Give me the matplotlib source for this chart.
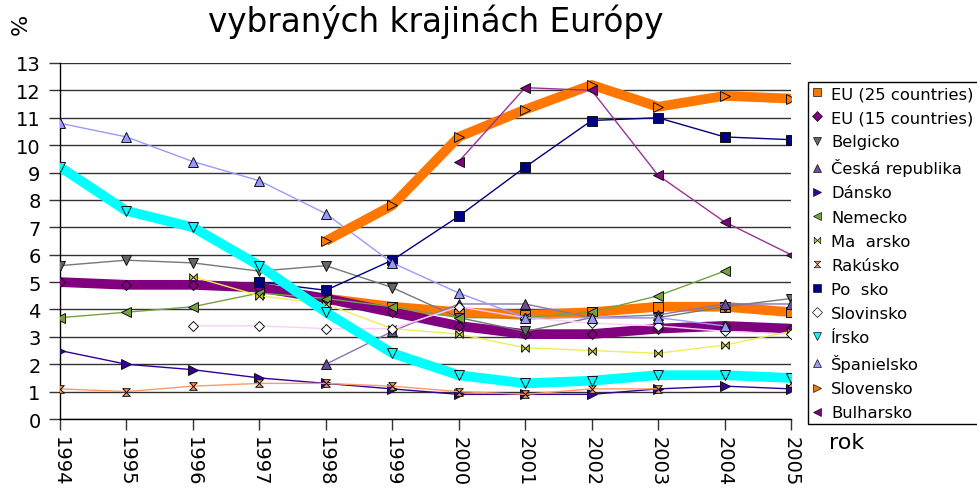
import numpy as np
import matplotlib
matplotlib.use("Agg")
import matplotlib.pyplot as plt
from matplotlib.path import Path
from matplotlib.lines import Line2D

nan = np.nan
years = [1994, 1995, 1996, 1997, 1998, 1999, 2000, 2001, 2002, 2003, 2004, 2005]
year_labels = [str(y) for y in years]

eu25 = [nan, nan, nan, nan, 4.4, 4.1, 3.9, 3.8, 3.9, 4.1, 4.1, 3.9]
eu15 = [5.0, 4.9, 4.9, 4.8, 4.4, 3.9, 3.4, 3.1, 3.1, 3.3, 3.4, 3.3]
belgicko = [5.6, 5.8, 5.7, 5.4, 5.6, 4.8, 3.7, 3.2, 3.7, 3.7, 4.1, 4.4]
cesko = [nan, nan, nan, nan, 2.0, 3.2, 4.2, 4.2, 3.7, 3.8, 4.2, 4.2]
dansko = [2.5, 2.0, 1.8, 1.5, 1.3, 1.1, 0.9, 0.9, 0.9, 1.1, 1.2, 1.1]
nemecko = [3.7, 3.9, 4.1, 4.6, 4.4, 4.1, 3.7, 3.7, 3.9, 4.5, 5.4, nan]
madarsko = [nan, nan, 5.2, 4.5, 4.2, 3.3, 3.1, 2.6, 2.5, 2.4, 2.7, 3.2]
rakusko = [1.1, 1.0, 1.2, 1.3, 1.3, 1.2, 1.0, 0.9, 1.1, 1.1, nan, 1.3]
polsko = [nan, nan, nan, 5.0, 4.7, 5.8, 7.4, 9.2, 10.9, 11.0, 10.3, 10.2]
slovinsko = [nan, nan, 3.4, 3.4, 3.3, 3.3, 4.1, 3.7, 3.5, 3.4, 3.2, 3.1]
irsko = [9.2, 7.6, 7.0, 5.6, 3.9, 2.4, 1.6, 1.3, 1.4, 1.6, 1.6, 1.5]
spanielsko = [10.8, 10.3, 9.4, 8.7, 7.5, 5.7, 4.6, 3.7, 3.7, 3.7, 3.4, nan]
slovensko = [nan, nan, nan, nan, 6.5, 7.8, 10.3, 11.3, 12.2, 11.4, 11.8, 11.7]
bulharsko = [nan, nan, nan, nan, nan, nan, 9.4, 12.1, 12.0, 8.9, 7.2, 6.0]

bowtie = Path([(-1, -1), (-1, 1), (1, -1), (1, 1), (-1, -1)])
hourglass = Path([(-1, 1), (1, 1), (-1, -1), (1, -1), (-1, 1)])

# (label, values, line colour, line width, marker, marker fill)
series = [
    ("EU (25 countries)", eu25, "#ff7700", 7.0, "s", "#ff7700"),
    ("EU (15 countries)", eu15, "#800080", 7.0, "D", "#800080"),
    ("Belgicko", belgicko, "#777777", 1.0, "v", "#666666"),
    ("Česká republika", cesko, "#8a72b0", 1.0, "^", "#6b4c9a"),
    ("Dánsko", dansko, "#330099", 1.0, ">", "#330099"),
    ("Nemecko", nemecko, "#77a040", 1.0, "<", "#77a040"),
    ("Ma  arsko", madarsko, "#eeee55", 1.0, bowtie, "#cccc33"),
    ("Rakúsko", rakusko, "#ff9966", 1.0, hourglass, "#ff9955"),
    ("Po  sko", polsko, "#000080", 1.0, "s", "#000080"),
    ("Slovinsko", slovinsko, "#ffccff", 1.0, "D", "#ffffff"),
    ("Írsko", irsko, "#00ffff", 7.0, "v", "#00ffff"),
    ("Španielsko", spanielsko, "#9999ff", 1.0, "^", "#9999ff"),
    ("Slovensko", slovensko, "#ff7700", 7.0, ">", "#ff7700"),
    ("Bulharsko", bulharsko, "#993399", 1.0, "<", "#800080"),
]

fig = plt.figure(figsize=(9.77, 4.89), dpi=100)
ax = fig.add_axes([60 / 977, 1 - 420 / 489, (791 - 60) / 977, (420 - 64) / 489])

def msize(m):
    if m == "D":
        return 5.5
    if m in ("s",):
        return 6.5
    if isinstance(m, Path):
        return 5.5
    return 7

handles = []
for label, vals, lc, lw, mk, mf in series:
    ax.plot(years, vals, color=lc, lw=lw, solid_joinstyle="round",
            solid_capstyle="butt", marker=mk, markersize=msize(mk),
            markerfacecolor=mf, markeredgecolor="#111111",
            markeredgewidth=0.7, zorder=3)
    handles.append(Line2D([], [], linestyle="none", marker=mk,
                          markersize=msize(mk) * 0.85, markerfacecolor=mf,
                          markeredgecolor="#111111", markeredgewidth=0.5,
                          label=label))

ax.set_xlim(1994, 2005)
ax.set_ylim(0, 13)
ax.set_yticks(range(0, 14))
ax.set_xticks(years)
ax.set_xticklabels(year_labels, rotation=-90, va="top", ha="center")
ax.yaxis.grid(True, color="#333333", lw=1.0, zorder=1)
ax.set_axisbelow(True)
for s in ("top", "right"):
    ax.spines[s].set_visible(False)
for s in ("left", "bottom"):
    ax.spines[s].set_color("black")
    ax.spines[s].set_linewidth(1.0)
ax.tick_params(axis="y", direction="out", length=8, width=1.0, color="#333333",
               labelsize=14, pad=6)
ax.tick_params(axis="x", direction="out", length=8, width=1.0, color="#333333",
               labelsize=14, pad=4)

leg = fig.legend(handles=handles, loc="upper left",
                 bbox_to_anchor=(808 / 977, 1 - 83 / 489),
                 fontsize=11.8, frameon=True, fancybox=False, framealpha=1,
                 edgecolor="black", borderpad=0.25, labelspacing=0.555,
                 handlelength=0.6, handletextpad=0.55, borderaxespad=0)
leg.get_frame().set_linewidth(1.0)

fig.text(436 / 977, 1 - 32 / 489, "vybraných krajinách Európy",
         ha="center", va="baseline", fontsize=23.5)
fig.text(21 / 977, 1 - 24 / 489, "%", rotation=90, ha="center", va="center",
         fontsize=16)
fig.text(829 / 977, 1 - 449 / 489, "rok", ha="left", va="baseline",
         fontsize=16)

fig.savefig("out.png", dpi=100)
